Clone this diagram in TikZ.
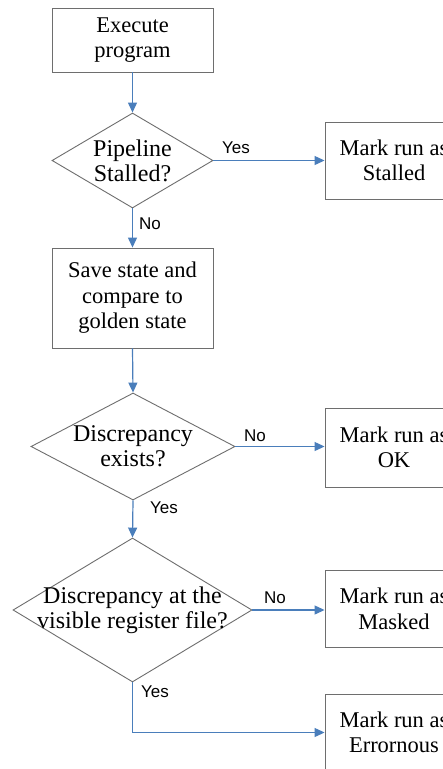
\documentclass[tikz,border=0pt]{standalone}
\usepackage{fontspec}
\setmainfont{Liberation Serif}
\newfontfamily\labfont{Liberation Sans}
\usetikzlibrary{shapes.geometric,arrows.meta}
\definecolor{conncol}{HTML}{4A7EBB}
\definecolor{edgecol}{HTML}{6E6E6E}
\tikzset{
  box/.style={draw=edgecol, line width=0.9pt, rectangle, align=center, inner sep=0pt,
    font=\fontsize{22.5}{25.5}\selectfont},
  dia/.style={draw=edgecol, line width=0.9pt, diamond, inner sep=0pt},
  diatext/.style={align=center, font=\fontsize{24}{25}\selectfont},
  conn/.style={draw=conncol, line width=1.2pt, -{Triangle[length=10pt,width=9pt]}},
  lab/.style={font=\labfont\fontsize{17}{19}\selectfont, inner sep=0pt}
}
\begin{document}
\begin{tikzpicture}[x=1pt,y=-1pt]
\useasboundingbox (0,0) rectangle (443,769);
\clip (0,0) rectangle (443,769);
\fill[white] (0,0) rectangle (443,769);
% main column
\node[box, minimum width=161pt, minimum height=64pt] (exec) at (132.5,40) {Execute\\program};
\node[dia, minimum width=161pt, minimum height=95pt,
  label={[diatext]center:Pipeline\\Stalled?}] (d1) at (132.5,160.5) {};
\node[box, minimum width=161pt, minimum height=100pt] (save) at (132.5,298) {Save state and\\compare to\\golden state};
\node[dia, minimum width=204pt, minimum height=107pt,
  label={[diatext]center:Discrepancy\\exists?}] (d2) at (133,446.5) {};
\node[dia, minimum width=239pt, minimum height=144pt,
  label={[diatext]center:Discrepancy at the\\visible register file?}] (d3) at (132.5,610) {};
% right column
\node[box, minimum width=138pt, minimum height=77pt] (stalled) at (394,160.5) {Mark run as\\Stalled};
\node[box, minimum width=138pt, minimum height=79pt] (ok) at (394,447.5) {Mark run as\\OK};
\node[box, minimum width=138pt, minimum height=77pt] (masked) at (394,609) {Mark run as\\Masked};
\node[box, minimum width=138pt, minimum height=77pt] (err) at (394,732.5) {Mark run as\\Errornous};
% connectors
\draw[conn] (exec.south) -- (d1.north);
\draw[conn] (d1.east) -- (d1.east -| stalled.west);
\draw[conn] (d1.south) -- (save.north);
\draw[conn] (save.south) -- (d2.north);
\draw[conn] (d2.east) -- (d2.east -| ok.west);
\draw[conn] (d2.south) -- (d3.north);
\draw[conn] (d3.east) -- (d3.east -| masked.west);
\draw[conn] (d3.south) |- (err.west);
% labels
\node[lab] (l1) at (236,148) {Yes};
\node[lab] (l2) at (150,224) {No};
\node[lab] (l3) at (255,436) {No};
\node[lab] (l4) at (164,508) {Yes};
\node[lab] (l5) at (275,598) {No};
\node[lab] (l6) at (155,692) {Yes};
\end{tikzpicture}
\end{document}
